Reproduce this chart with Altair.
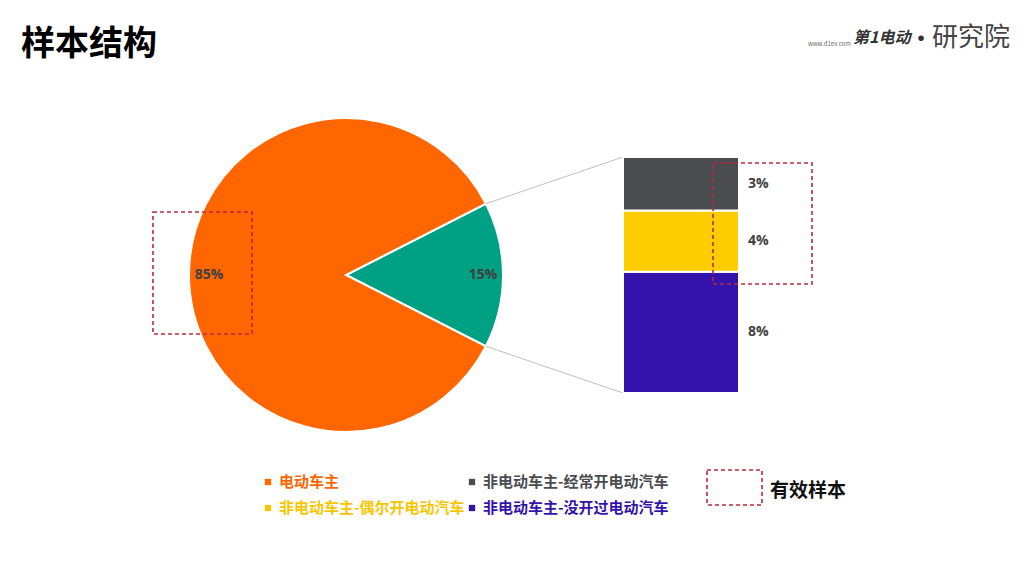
import math
import altair as alt
import pandas as pd

# ---------------- data ----------------
pie_names = ["非电动车主", "电动车主"]
pie_values = [15, 85]
pie_colors = ["#00A084", "#FF6600"]

bar_names = ["非电动车主-没开过电动汽车", "非电动车主-偶尔开电动汽车", "非电动车主-经常开电动汽车"]
bar_values = [7.7, 3.9, 3.4]
bar_colors = ["#3413AC", "#FFCC00", "#4A4C50"]

legend_labels = ["电动车主", "非电动车主-经常开电动汽车", "非电动车主-偶尔开电动汽车", "非电动车主-没开过电动汽车"]
legend_colors = ["#FF6600", "#4A4C50", "#F7C600", "#3413AC"]

title_text = "样本结构"
valid_text = "有效样本"

# ---------------- layout ----------------
FONT = "Noto Sans CJK SC"
NUM_FONT = "Open Sans"
W, H = 1008, 560
PIE_CX, PIE_CY, PIE_R = 346, 275, 157
BAR_X0, BAR_X1, BAR_TOP, BAR_BOTTOM = 623, 739, 157, 393
BOX_COLOR = "#BA2A3C"

xs = alt.Scale(domain=[8, 8 + W], range=[0, W], nice=False, zero=False)
ys = alt.Scale(domain=[8, 8 + H], range=[0, H], nice=False, zero=False)
ybar = alt.Scale(domain=[0, sum(bar_values)], range=[BAR_BOTTOM - 8, BAR_TOP - 8], nice=False, zero=False)

total = sum(pie_values)
half = pie_values[0] / total * math.pi
t0 = math.pi / 2 - half
theta_scale = alt.Scale(domain=[0, total], range=[t0, t0 + 2 * math.pi])

pie_df = pd.DataFrame({
    "name": pie_names, "value": pie_values, "color": pie_colors,
    "ord": list(range(len(pie_names))),
    "label": [f"{v}%" for v in pie_values],
    "cx": PIE_CX, "cy": PIE_CY,
})

bar_df = pd.DataFrame({
    "name": bar_names, "value": bar_values, "color": bar_colors,
    "ord": list(range(len(bar_names))),
    "label": [f"{round(v)}%" for v in bar_values],
    "bx0": BAR_X0, "bx1": BAR_X1, "lx": 748,
})

pie = alt.Chart(pie_df).mark_arc(radius=PIE_R, stroke="white", strokeWidth=2).encode(
    theta=alt.Theta("value:Q", stack=True, scale=theta_scale),
    order=alt.Order("ord:Q"),
    color=alt.Color("color:N", scale=None),
    x=alt.X("cx:Q", scale=xs, axis=None),
    y=alt.Y("cy:Q", scale=ys, axis=None),
)

pie_text = alt.Chart(pie_df).mark_text(
    radius=137, font=NUM_FONT, fontSize=14, fontWeight="bold", color="#404040",
    align="center", baseline="middle",
).encode(
    theta=alt.Theta("value:Q", stack=True, scale=theta_scale),
    order=alt.Order("ord:Q"),
    text="label:N",
    x=alt.X("cx:Q", scale=xs, axis=None),
    y=alt.Y("cy:Q", scale=ys, axis=None),
)

# connector lines from the pie slice edges to the bar corners
ex = PIE_CX + PIE_R * math.cos(half)
ey = PIE_R * math.sin(half)
conn_df = pd.DataFrame({
    "x": [ex, ex], "y": [PIE_CY - ey, PIE_CY + ey],
    "x2": [BAR_X0, BAR_X0], "y2": [BAR_TOP, BAR_BOTTOM],
})
conn = alt.Chart(conn_df).mark_rule(color="#BFBFBF", strokeWidth=1).encode(
    x=alt.X("x:Q", scale=xs, axis=None), x2="x2:Q",
    y=alt.Y("y:Q", scale=ys, axis=None), y2="y2:Q",
)

bar = alt.Chart(bar_df).transform_stack(
    stack="value", groupby=[], as_=["y0", "y1"], sort=[alt.SortField("ord")]
).mark_rect(stroke="white", strokeWidth=2).encode(
    x=alt.X("bx0:Q", scale=xs, axis=None), x2="bx1:Q",
    y=alt.Y("y0:Q", scale=ybar, axis=None), y2="y1:Q",
    color=alt.Color("color:N", scale=None),
)

bar_text = alt.Chart(bar_df).transform_stack(
    stack="value", groupby=[], as_=["y0", "y1"], sort=[alt.SortField("ord")]
).transform_calculate(mid="(datum.y0 + datum.y1) / 2").mark_text(
    font=NUM_FONT, fontSize=14, fontWeight="bold", color="#404040", align="left", baseline="middle",
).encode(
    x=alt.X("lx:Q", scale=xs, axis=None),
    y=alt.Y("mid:Q", scale=ybar, axis=None),
    text="label:N",
)

box_df = pd.DataFrame({
    "x": [153, 713, 707], "x2": [252, 812, 762],
    "y": [212, 163, 470], "y2": [334, 284, 505],
})
boxes = alt.Chart(box_df).mark_rect(
    fillOpacity=0, stroke=BOX_COLOR, strokeWidth=1.6, strokeDash=[4, 3]
).encode(
    x=alt.X("x:Q", scale=xs, axis=None), x2="x2:Q",
    y=alt.Y("y:Q", scale=ys, axis=None), y2="y2:Q",
)

leg_df = pd.DataFrame({
    "label": legend_labels, "color": legend_colors,
    "sx": [268, 472, 268, 472], "tx": [279, 483, 279, 483],
    "y": [482, 482, 508, 508],
})
leg_sq = alt.Chart(leg_df).mark_square(size=40, opacity=1).encode(
    x=alt.X("sx:Q", scale=xs, axis=None),
    y=alt.Y("y:Q", scale=ys, axis=None),
    color=alt.Color("color:N", scale=None),
)
leg_tx = alt.Chart(leg_df).mark_text(
    font=FONT, fontSize=15, fontWeight="bold", align="left", baseline="middle"
).encode(
    x=alt.X("tx:Q", scale=xs, axis=None),
    y=alt.Y("y:Q", scale=ys, axis=None),
    text="label:N",
    color=alt.Color("color:N", scale=None),
)

def text_layer(df, **kw):
    return alt.Chart(df).mark_text(font=FONT, baseline="middle", **kw).encode(
        x=alt.X("x:Q", scale=xs, axis=None),
        y=alt.Y("y:Q", scale=ys, axis=None),
        text="t:N",
    )

title = text_layer(pd.DataFrame({"x": [21], "y": [45], "t": [title_text]}),
                   fontSize=34, fontWeight="bold", color="#000000", align="left")
valid = text_layer(pd.DataFrame({"x": [770], "y": [491], "t": [valid_text]}),
                   fontSize=19, fontWeight="bold", color="#111111", align="left")
logo0 = text_layer(pd.DataFrame({"x": [808], "y": [44], "t": ["www.d1ev.com"]}),
                   fontSize=6, color="#666666", align="left")
logo1 = text_layer(pd.DataFrame({"x": [853], "y": [38], "t": ["第1电动"]}),
                   fontSize=16, fontWeight="bold", fontStyle="italic", color="#333333", align="left")
logo2 = text_layer(pd.DataFrame({"x": [921], "y": [39], "t": ["·"]}),
                   fontSize=22, fontWeight="bold", color="#333333", align="center")
logo3 = text_layer(pd.DataFrame({"x": [932], "y": [38], "t": ["研究院"]}),
                   fontSize=26, fontWeight="normal", color="#444444", align="left")

chart = alt.layer(
    pie, conn, pie_text, bar, bar_text, boxes, leg_sq, leg_tx, title, valid,
    logo0, logo1, logo2, logo3
).resolve_scale(y="independent").properties(
    width=W, height=H, padding=0, autosize="none", background="white"
).configure_view(stroke=None)

chart.save("out.html", embed_options={"renderer": "svg", "actions": False})
